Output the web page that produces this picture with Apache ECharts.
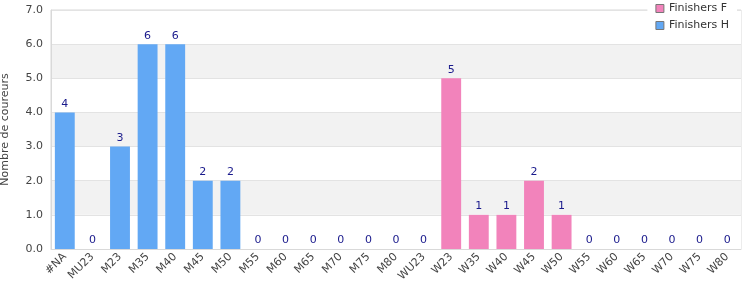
<!DOCTYPE html>
<html>
<head>
<meta charset="utf-8">
<script src="https://cdn.jsdelivr.net/npm/echarts@6/dist/echarts.min.js"></script>
<style>
  html, body { margin: 0; padding: 0; background: #fff; }
  #chart { width: 750px; height: 300px; }
</style>
</head>
<body>
<div id="chart"></div>
<script>
const categories = ['#NA', 'MU23', 'M23', 'M35', 'M40', 'M45', 'M50', 'M55', 'M60', 'M65', 'M70', 'M75', 'M80',
  'WU23', 'W23', 'W35', 'W40', 'W45', 'W50', 'W55', 'W60', 'W65', 'W70', 'W75', 'W80'];
const finishersH = [4, 0, 3, 6, 6, 2, 2, 0, 0, 0, 0, 0, 0, 0, '-', '-', '-', '-', '-', '-', '-', '-', '-', '-', '-'];
const finishersF = ['-', '-', '-', '-', '-', '-', '-', '-', '-', '-', '-', '-', '-', '-', 5, 1, 1, 2, 1, 0, 0, 0, 0, 0, 0];

const font = 'DejaVu Sans';
const labelStyle = { show: true, position: 'top', color: '#1a1a8c', fontSize: 11, fontFamily: font, distance: 3 };

const chart = echarts.init(document.getElementById('chart'));
chart.setOption({
  animation: false,
  textStyle: { fontFamily: font },
  grid: {
    left: 51, right: 9, top: 10, bottom: 51,
    outerBoundsMode: 'none', containLabel: false,
    show: true, borderColor: '#d9d9d9', borderWidth: 1, z: 0
  },
  legend: {
    orient: 'vertical',
    right: 13,
    top: 1,
    backgroundColor: '#fff',
    padding: [2, 8, 2, 8],
    itemGap: 6,
    itemWidth: 8,
    itemHeight: 8,
    icon: 'rect',
    itemStyle: { borderColor: '#777', borderWidth: 1 },
    textStyle: { fontSize: 11, color: '#333', fontFamily: font },
    data: ['Finishers F', 'Finishers H']
  },
  xAxis: {
    type: 'category',
    data: categories,
    axisLine: { lineStyle: { color: '#d9d9d9' } },
    axisTick: { show: false },
    axisLabel: { rotate: 45, interval: 0, color: '#444', fontSize: 11, fontFamily: font, margin: 6 }
  },
  yAxis: {
    type: 'value',
    min: 0,
    max: 7,
    interval: 1,
    name: 'Nombre de coureurs',
    nameLocation: 'middle',
    nameGap: 40,
    nameTextStyle: { color: '#444', fontSize: 11, fontFamily: font },
    axisLine: { show: true, lineStyle: { color: '#d9d9d9' } },
    axisTick: { show: false },
    axisLabel: { color: '#444', fontSize: 11, fontFamily: font, formatter: v => v.toFixed(1), margin: 8 },
    splitLine: { lineStyle: { color: '#e3e3e3' } },
    splitArea: { show: true, areaStyle: { color: ['#ffffff', '#f2f2f2'] } }
  },
  series: [
    {
      name: 'Finishers F',
      type: 'bar',
      stack: 'all',
      data: finishersF,
      barWidth: '72%',
      itemStyle: { color: '#f283bb', borderWidth: 0 },
      label: labelStyle
    },
    {
      name: 'Finishers H',
      type: 'bar',
      stack: 'all',
      data: finishersH,
      barWidth: '72%',
      itemStyle: { color: '#62a8f4', borderWidth: 0 },
      label: labelStyle
    }
  ]
});
</script>
</body>
</html>
